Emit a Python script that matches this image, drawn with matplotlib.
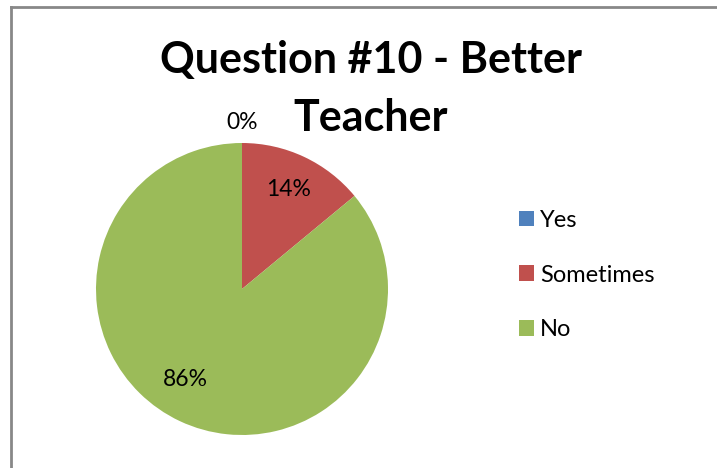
import numpy as np
import matplotlib
matplotlib.use("Agg")
import matplotlib.pyplot as plt
from matplotlib.patches import Patch

categories = ["Yes", "Sometimes", "No"]
percentages = [0, 14, 86]
colors = ["#4F81BD", "#C0504D", "#9BBB59"]
title_lines = ["Question #10 - Better", "Teacher"]

plt.rcParams["font.family"] = ["Lato", "DejaVu Sans"]

W, H = 717, 468
fig = plt.figure(figsize=(W / 100, H / 100), dpi=100)
fig.patch.set_facecolor("white")

# chart frame (left and top edges visible)
fig.add_artist(plt.Line2D([10.5 / W, 10.5 / W], [0, 1 - 6.5 / H],
                          transform=fig.transFigure, color="#888888", lw=2))
fig.add_artist(plt.Line2D([10.5 / W, 1], [1 - 6.5 / H, 1 - 6.5 / H],
                          transform=fig.transFigure, color="#888888", lw=2))

# pie axes: centre (242, 289) px, radius 146 px
cx, cy, r = 242, 289, 146
ax = fig.add_axes([(cx - r) / W, (H - cy - r) / H, 2 * r / W, 2 * r / H])
wedges, texts = ax.pie(percentages, colors=colors, startangle=90, counterclock=False,
                       radius=1.0, wedgeprops=dict(linewidth=0))
for t in texts:
    t.remove()
ax.set_xlim(-1, 1)
ax.set_ylim(-1, 1)
ax.set_aspect("equal")
ax.axis("off")

# percentage labels
label_dist = [1.14, 0.75, 0.73]
label_shift = [0, 0, -7]  # degrees
for w, p, d, s in zip(wedges, percentages, label_dist, label_shift):
    ang = np.deg2rad((w.theta1 + w.theta2) / 2 + s)
    ax.text(d * np.cos(ang), d * np.sin(ang), f"{p}%", ha="center", va="center",
            fontsize=16.5, color="black", clip_on=False)

# two-line title
for line, y in zip(title_lines, [60, 118]):
    fig.text(371 / W, 1 - y / H, line, ha="center", va="center", fontsize=31,
             fontweight="bold")

handles = [Patch(facecolor=c, edgecolor="none") for c in colors]
fig.legend(handles, categories, loc="center left",
           bbox_to_anchor=(519 / W, 1 - 275 / H), frameon=False, fontsize=17,
           handlelength=0.64, handleheight=0.64, handletextpad=0.25,
           labelspacing=1.43, borderaxespad=0, borderpad=0)

fig.savefig("out.png", dpi=100, facecolor="white")
